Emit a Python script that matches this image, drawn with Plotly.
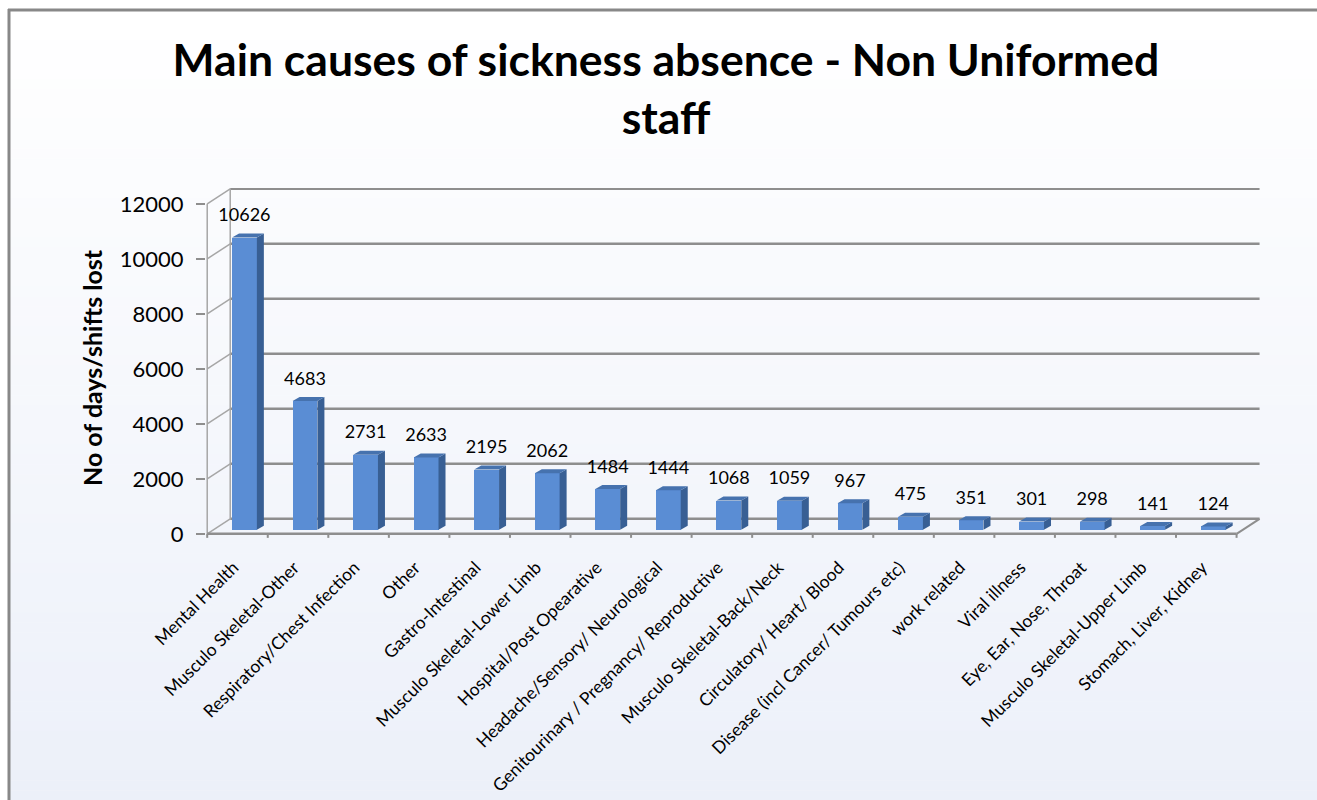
import plotly.graph_objects as go

# ---------------- data ----------------
categories = [
    "Mental Health", "Musculo Skeletal-Other", "Respiratory/Chest Infection", "Other",
    "Gastro-Intestinal", "Musculo Skeletal-Lower Limb", "Hospital/Post Opearative",
    "Headache/Sensory/ Neurological", "Genitourinary / Pregnancy/ Reproductive",
    "Musculo Skeletal-Back/Neck", "Circulatory/ Heart/ Blood",
    "Disease (incl Cancer/ Tumours etc)", "work related", "Viral illness",
    "Eye, Ear, Nose, Throat", "Musculo Skeletal-Upper Limb", "Stomach, Liver, Kidney",
]
values = [10626, 4683, 2731, 2633, 2195, 2062, 1484, 1444, 1068, 1059, 967, 475, 351, 301, 298, 141, 124]
y_ticks = [0, 2000, 4000, 6000, 8000, 10000, 12000]

title_text = "Main causes of sickness absence - Non Uniformed<br>staff"
y_title = "No of days/shifts lost"

# ---------------- geometry / style ----------------
FIG_W, FIG_H = 1317, 800
ML, MR, MT, MB = 206, 55, 188, 262
PW, PH = FIG_W - ML - MR, FIG_H - MT - MB
X_RANGE = [-0.52, 16.92]
Y_RANGE = [-150, 12575]
px_per_cat = PW / (X_RANGE[1] - X_RANGE[0])
px_per_unit = PH / (Y_RANGE[1] - Y_RANGE[0])

DXC = 23 / px_per_cat          # wall depth in category units
DYV = 15 / px_per_unit         # wall depth in value units
BAR_OFF, BAR_W = -0.09, 0.41
BASE = 4 / px_per_unit
DXB = 7 / px_per_cat
DYB = 4 / px_per_unit
LABEL_PAD = 8 / px_per_unit

GRID = "#8E8E8E"
LIGHT = "#A6A6A6"
FRONT = "#5A8DD4"
SIDE = "#385F94"
TOP = "#4672AE"
FONT = "Lato"


def px2x(p):
    return (p - ML) / PW


def py2y(p):
    return (FIG_H - MB - p) / PH


n = len(categories)
idx = list(range(n))

fig = go.Figure()

# side faces and top faces of 3D bars
side_x, side_y, top_x, top_y = [], [], [], []
for i, v in zip(idx, values):
    x0 = i + BAR_OFF
    x1 = x0 + BAR_W
    t = v + BASE
    side_x += [x1, x1 + DXB, x1 + DXB, x1, x1, None]
    side_y += [BASE, BASE + DYB, t + DYB, t, BASE, None]
    top_x += [x0, x1, x1 + DXB, x0 + DXB, x0, None]
    top_y += [t, t, t + DYB, t + DYB, t, None]

fig.add_trace(go.Scatter(x=side_x, y=side_y, mode="lines", fill="toself",
                         fillcolor=SIDE, line=dict(width=0), hoverinfo="skip",
                         showlegend=False))
fig.add_trace(go.Bar(x=idx, y=values, base=BASE, width=BAR_W, offset=BAR_OFF,
                     marker=dict(color=FRONT, line=dict(width=0)),
                     showlegend=False))
fig.add_trace(go.Scatter(x=top_x, y=top_y, mode="lines", fill="toself",
                         fillcolor=TOP, line=dict(width=0), hoverinfo="skip",
                         showlegend=False))

# data labels
fig.add_trace(go.Scatter(
    x=[i + BAR_OFF + BAR_W / 2 for i in idx],
    y=[v + BASE + DYB + LABEL_PAD for v in values],
    text=[str(v) for v in values], mode="text", textposition="top center",
    textfont=dict(family=FONT, size=18, color="#000000"),
    hoverinfo="skip", showlegend=False, cliponaxis=False))

shapes = []

# background gradient (stripes) inside the chart border
N = 80
top_px, bot_px = 10, 800
c0 = (255, 255, 255)
c1 = (236, 240, 249)
for k in range(N):
    a = top_px + (bot_px - top_px) * k / N
    b = top_px + (bot_px - top_px) * (k + 1) / N
    f = k / (N - 1)
    col = "rgb(%d,%d,%d)" % tuple(round(c0[j] + (c1[j] - c0[j]) * f) for j in range(3))
    shapes.append(dict(type="rect", xref="paper", yref="paper", layer="below",
                       x0=px2x(9), x1=px2x(FIG_W), y0=py2y(b + 0.5), y1=py2y(a),
                       fillcolor=col, line=dict(width=0, color=col)))

# back wall gridlines
for v in y_ticks:
    shapes.append(dict(type="line", xref="x", yref="y", layer="below",
                       x0=-0.5 + DXC, x1=16.5 + DXC, y0=v + DYV, y1=v + DYV,
                       line=dict(color=GRID, width=2.5)))
    # side-wall diagonals
    shapes.append(dict(type="line", xref="x", yref="y", layer="below",
                       x0=-0.5, x1=-0.5 + DXC, y0=v, y1=v + DYV,
                       line=dict(color=LIGHT, width=1.5)))

# wall verticals
shapes.append(dict(type="line", xref="x", yref="y", layer="below",
                   x0=-0.5 + DXC, x1=-0.5 + DXC, y0=DYV, y1=y_ticks[-1] + DYV,
                   line=dict(color=LIGHT, width=1.5)))
shapes.append(dict(type="line", xref="x", yref="y", layer="below",
                   x0=-0.5, x1=-0.5, y0=0, y1=y_ticks[-1],
                   line=dict(color=LIGHT, width=1.5)))
# floor front edge and right diagonal
shapes.append(dict(type="line", xref="x", yref="y", layer="below",
                   x0=-0.5, x1=n - 0.5, y0=0, y1=0,
                   line=dict(color=GRID, width=2.5)))
shapes.append(dict(type="line", xref="x", yref="y", layer="below",
                   x0=n - 0.5, x1=n - 0.5 + DXC, y0=0, y1=DYV,
                   line=dict(color=GRID, width=2)))
# category tick marks on floor edge
for k in range(n + 1):
    shapes.append(dict(type="line", xref="x", yref="y", layer="below",
                       x0=k - 0.5, x1=k - 0.5, y0=0, y1=Y_RANGE[0] + 5,
                       line=dict(color=GRID, width=2)))

# chart border (left and top edges)
shapes.append(dict(type="line", xref="paper", yref="paper",
                   x0=px2x(9), x1=px2x(9), y0=py2y(9), y1=py2y(FIG_H),
                   line=dict(color="#888888", width=3)))
shapes.append(dict(type="line", xref="paper", yref="paper",
                   x0=px2x(8), x1=px2x(FIG_W), y0=py2y(10), y1=py2y(10),
                   line=dict(color="#888888", width=3)))

fig.update_layout(
    width=FIG_W, height=FIG_H,
    margin=dict(l=ML, r=MR, t=MT, b=MB, autoexpand=False),
    paper_bgcolor="#FFFFFF", plot_bgcolor="rgba(0,0,0,0)",
    shapes=shapes,
    title=dict(text=title_text, x=666 / FIG_W, xref="container", xanchor="center",
               y=1 - 76 / FIG_H, yref="container", yanchor="top",
               font=dict(family=FONT, size=44.5, color="#000000", weight="bold")),
    xaxis=dict(range=X_RANGE, tickmode="array", tickvals=idx, ticktext=categories,
               tickangle=-45, ticks="", showgrid=False, zeroline=False, showline=False,
               ticklabelstandoff=15, ticklabelshift=-4,
               tickfont=dict(family=FONT, size=17.5, color="#000000"),
               fixedrange=True),
    yaxis=dict(range=Y_RANGE, tickmode="array", tickvals=y_ticks,
               ticktext=[str(t) for t in y_ticks],
               ticks="outside", ticklen=9, tickwidth=2, tickcolor=GRID,
               ticklabelstandoff=8,
               showgrid=False, zeroline=False, showline=False,
               tickfont=dict(family=FONT, size=22, color="#000000"),
               fixedrange=True),
    annotations=[dict(text=y_title, textangle=-90, xref="paper", yref="paper",
                      x=px2x(92), y=py2y(368), xanchor="center", yanchor="middle",
                      showarrow=False,
                      font=dict(family=FONT, size=25, color="#000000", weight="bold"))],
    bargap=0.0,
)

fig.write_html(
    "out.html",
    post_script="document.body.style.margin='0';document.body.style.overflow='hidden';"
                "document.documentElement.style.overflow='hidden';",
    config={"displayModeBar": False},
)
